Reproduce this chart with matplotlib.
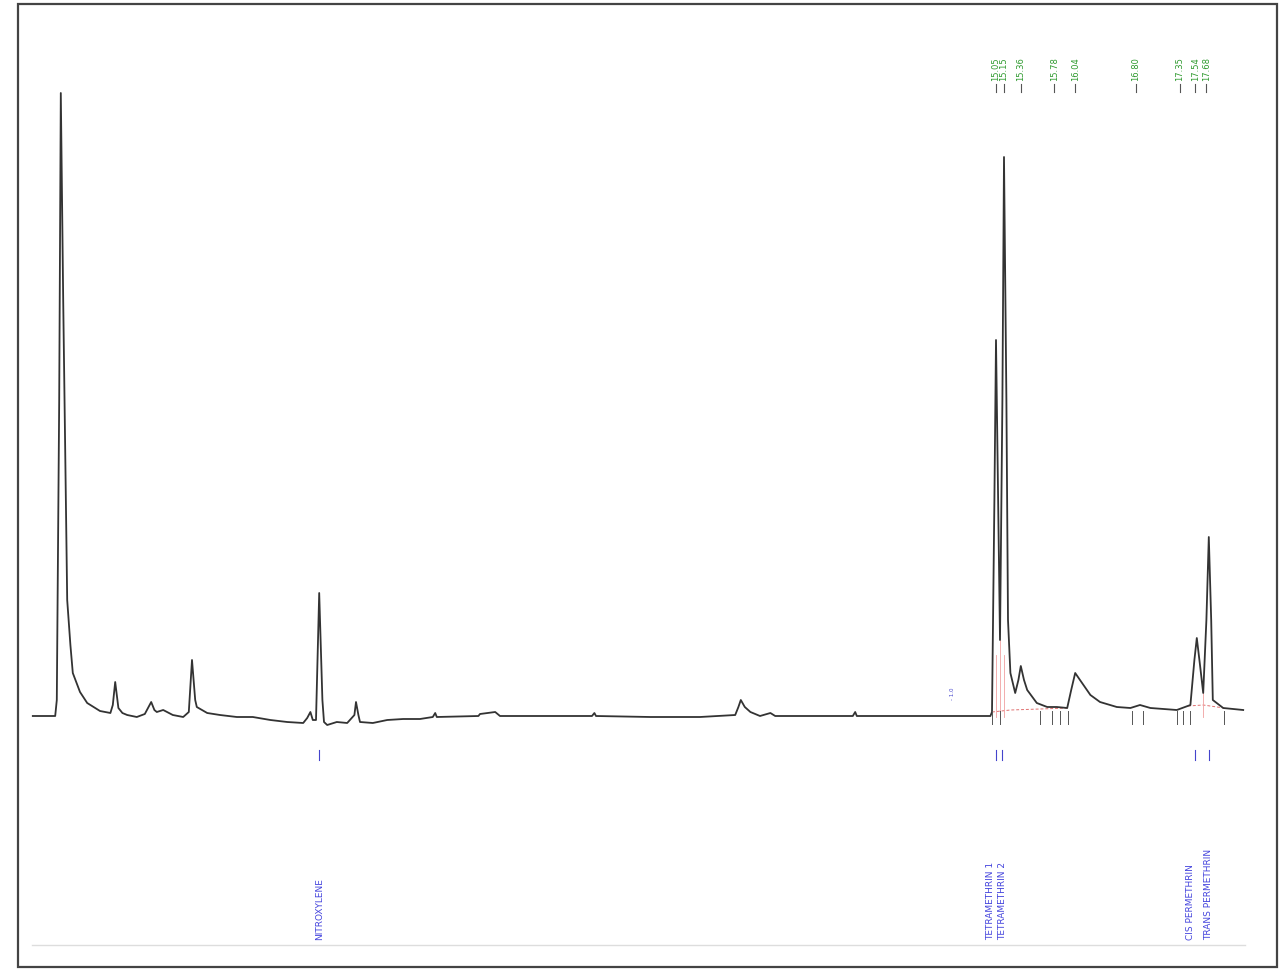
import matplotlib
matplotlib.use('Agg')
import matplotlib.pyplot as plt
from matplotlib.patches import Rectangle

# chromatogram trace, retention time (min) and detector response
rt = [3.01, 3.29, 3.31, 3.34, 3.36, 3.39, 3.44, 3.48, 3.51, 3.60, 3.69, 3.85, 3.98,
      4.01, 4.04, 4.08, 4.13, 4.19, 4.31, 4.41, 4.45, 4.49, 4.53, 4.56, 4.64, 4.76,
      4.89, 4.96, 5.00, 5.04, 5.06, 5.19, 5.35, 5.56, 5.76, 5.98, 6.19, 6.39, 6.44,
      6.48, 6.51, 6.55, 6.59, 6.63, 6.65, 6.69, 6.81, 6.94, 7.03, 7.05, 7.08, 7.10,
      7.26, 7.44, 7.64, 7.85, 8.01, 8.04, 8.06, 8.58, 8.60, 8.79, 8.85, 9.35, 10.00,
      10.03, 10.05, 10.73, 11.35, 11.79, 11.83, 11.86, 11.91, 11.98, 12.10, 12.23,
      12.29, 13.26, 13.29, 13.31, 14.48, 14.98, 15.00, 15.03, 15.05, 15.08, 15.10,
      15.13, 15.15, 15.18, 15.20, 15.23, 15.29, 15.33, 15.36, 15.40, 15.44, 15.56,
      15.69, 15.81, 15.94, 15.99, 16.04, 16.10, 16.23, 16.35, 16.56, 16.73, 16.85,
      16.98, 17.31, 17.48, 17.53, 17.56, 17.60, 17.64, 17.68, 17.71, 17.74, 17.76,
      17.89, 18.14]
resp = [-1, -1, 15, 315, 622, 415, 115, 70, 42, 23, 12, 4, 2,
        10, 33, 7, 2, 0, -2, 1, 7, 13, 5, 3, 5, 0,
        -2, 3, 55, 15, 8, 2, 0, -2, -2, -5, -7, -8, -3,
        3, -5, -5, 122, 15, -7, -10, -7, -8, 0, 13, 0, -7,
        -8, -5, -4, -4, -2, 2, -2, -1, 1, 3, -1, -1, -1,
        2, -1, -2, -2, 0, 8, 15, 8, 3, -1, 2,
        -1, -1, 3, -1, -1, -1, 3, 215, 375, 195, 75,
        315, 558, 315, 95, 42, 22, 35, 49, 35, 25, 12,
        8, 8, 7, 25, 42, 35, 20, 13, 8, 7, 10,
        7, 5, 10, 55, 77, 50, 22, 95, 178, 95, 15,
        7, 5]

# integrated peaks (green retention time labels)
peak_rt = [15.05, 15.15, 15.36, 15.78, 16.04, 16.80, 17.35, 17.54, 17.68]
peak_lbl = ['15.05', '15.15', '15.36', '15.78', '16.04', '16.80', '17.35', '17.54', '17.68']

# identified compounds (blue labels)
cmp_rt = [6.59, 15.05, 15.13, 17.54, 17.71]
cmp_name = ['NITROXYLENE', 'TETRAMETHRIN 1', 'TETRAMETHRIN 2',
            'CIS PERMETHRIN', 'TRANS PERMETHRIN']

# peak start/end markers
mark_rt = [15.00, 15.10, 15.60, 15.75, 15.85, 15.95, 16.75, 16.89,
           17.31, 17.39, 17.48, 17.90]


def main():
    fig = plt.figure(figsize=(12.81, 9.71), dpi=100)
    fig.patch.set_facecolor('white')
    ax = fig.add_axes([0, 0, 1, 1])
    ax.set_xlim(2.6, 18.6125)
    ax.set_ylim(-256, 715)
    ax.axis('off')

    # page frame
    fig.add_artist(Rectangle((18 / 1281, 4 / 971), 1259 / 1281, 963 / 971,
                             transform=fig.transFigure, fill=False,
                             edgecolor='#444444', linewidth=1.6))

    # integration baselines / drop lines
    ax.plot([15.00, 15.23, 15.60, 15.95], [3, 5, 6, 7], color='#e07070',
            linewidth=0.7, linestyle=(0, (3, 2)))
    ax.plot([17.45, 17.64, 17.90], [9, 10, 7], color='#e07070',
            linewidth=0.7, linestyle=(0, (3, 2)))
    for t, top in [(15.05, 60), (15.10, 75), (15.15, 60), (17.64, 22)]:
        ax.plot([t, t], [-2, top], color='#f0a0a0', linewidth=0.6)

    ax.plot(rt, resp, color='#333333', linewidth=1.3, solid_joinstyle='round')

    for t in mark_rt:
        ax.plot([t, t], [4, -9], color='#555555', linewidth=0.7)

    # retention time labels
    for t, s in zip(peak_rt, peak_lbl):
        ax.plot([t, t], [623, 631], color='#555555', linewidth=0.8)
        ax.text(t, 634, s, rotation=90, ha='center', va='bottom',
                fontsize=6, color='#2e9a2e')

    ax.text(14.50, 15, '- 1.0', rotation=90, ha='center', va='bottom',
            fontsize=4, color='#4444cc')

    # compound names; the two close ones are nudged apart like the printout
    nudge = [0, -0.07, 0.0, -0.06, 0]
    for t, name, dx in zip(cmp_rt, cmp_name, nudge):
        ax.plot([t, t], [-35, -45], color='#4444cc', linewidth=0.8)
        ax.text(t + dx, -225, name, rotation=90, ha='center', va='bottom',
                fontsize=6.5, color='#4444dd')

    ax.plot([3.0, 18.16], [-230, -230], color='#dddddd', linewidth=1)

    fig.savefig('out.png', dpi=100)


if __name__ == '__main__':
    main()
